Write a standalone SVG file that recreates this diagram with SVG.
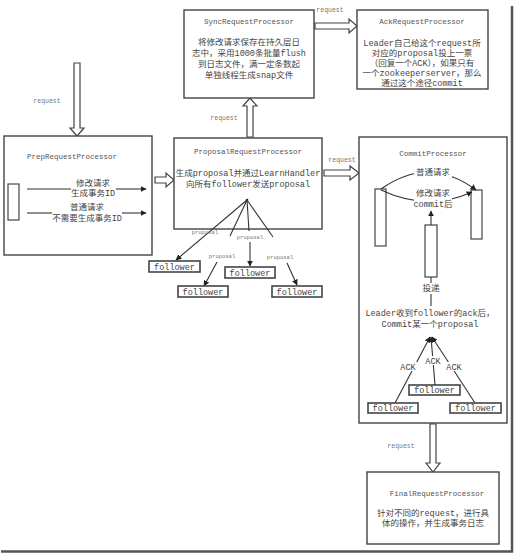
<svg xmlns="http://www.w3.org/2000/svg" width="515" height="554" viewBox="0 0 515 554">
<style>
text{font-family:"Liberation Mono","Noto Sans CJK SC",monospace;fill:#444;text-anchor:middle}
.t{font-size:7.5px;fill:#555}
.b{font-size:8.5px}
.s{font-size:6.5px;fill:#777}
.p{font-size:5.5px;fill:#777}
.box{fill:#fff;stroke:#444;stroke-width:1.4}
.fb{fill:#fff;stroke:#444;stroke-width:1.6}
.sm{fill:#fff;stroke:#444;stroke-width:1.2}
.ln{fill:none;stroke:#333;stroke-width:1.1}
.ha{fill:#fff;stroke:#444;stroke-width:1.2}
.wb{fill:#fff}
</style>
<defs>
<marker id="ah" viewBox="0 0 10 10" refX="9" refY="5" markerWidth="6" markerHeight="6" orient="auto" markerUnits="userSpaceOnUse">
<path d="M0,0 L10,5 L0,10 z" fill="#222"/>
</marker>
</defs>
<rect width="515" height="554" fill="#fff"/>
<g id="frame">
<path d="M512,6 V551.5 H1" fill="none" stroke="#555" stroke-width="2.5"/>
</g>

<g id="connectors">
<polygon class="ha" points="74,63 80,63 80,128 84,128 77,136 70,128 74,128"/>
<polygon class="ha" points="247,137 253,137 253,106 257,106 250,98 243,106 247,106"/>
<polygon class="ha" points="315,23 349,23 349,19 357,26 349,33 349,29 315,29"/>
<polygon class="ha" points="155,177 166,177 166,173 174,180 166,187 166,183 155,183"/>
<polygon class="ha" points="324,170 350,170 350,166 359,173 350,180 350,176 324,176"/>
<polygon class="ha" points="430,424 436,424 436,463 440,463 433,472 426,463 430,463"/>
<text class="s" x="47" y="103">request</text>
<text class="s" x="224" y="120">request</text>
<text class="s" x="330" y="12">request</text>
<text class="s" x="342" y="162">request</text>
<text class="s" x="401" y="448">request</text>
</g>

<g id="SyncRequestProcessor">
<rect class="box" x="184" y="10" width="130" height="88"/>
<text class="t" x="249" y="24">SyncRequestProcessor</text>
<text class="b" x="249" y="45">将修改请求保存在持久层日</text>
<text class="b" x="249" y="56">志中，采用1000条批量flush</text>
<text class="b" x="249" y="67">到日志文件，满一定条数起</text>
<text class="b" x="249" y="78">单独线程生成snap文件</text>
</g>

<g id="AckRequestProcessor">
<rect class="box" x="357" y="10" width="131" height="79"/>
<text class="t" x="422" y="24">AckRequestProcessor</text>
<text class="b" x="422" y="46">Leader自己给这个request所</text>
<text class="b" x="422" y="56">对应的proposal投上一票</text>
<text class="b" x="422" y="66">（回复一个ACK），如果只有</text>
<text class="b" x="422" y="76">一个zookeeperserver，那么</text>
<text class="b" x="422" y="86">通过这个途径commit</text>
</g>

<g id="PrepRequestProcessor">
<rect class="box" x="4" y="136" width="148" height="119"/>
<text class="t" x="72" y="159">PrepRequestProcessor</text>
<rect class="sm" x="8" y="184" width="11" height="36"/>
<line class="ln" x1="27" y1="189" x2="71" y2="189"/>
<line class="ln" x1="116" y1="189" x2="146" y2="189" marker-end="url(#ah)"/>
<text class="b" x="93" y="186">修改请求</text>
<text class="b" x="93" y="196">生成事务ID</text>
<line class="ln" x1="27" y1="213" x2="52" y2="213"/>
<line class="ln" x1="122" y1="213" x2="146" y2="213" marker-end="url(#ah)"/>
<text class="b" x="87" y="210">普通请求</text>
<text class="b" x="87" y="221">不需要生成事务ID</text>
</g>

<g id="ProposalRequestProcessor">
<rect class="box" x="174" y="138" width="148" height="91"/>
<text class="t" x="248" y="154">ProposalRequestProcessor</text>
<text class="b" x="248" y="176">生成proposal并通过LearnHandler</text>
<text class="b" x="248" y="187">向所有follower发送proposal</text>
<circle cx="247" cy="200" r="1.3" fill="#222"/>
<line class="ln" x1="247" y1="200" x2="176" y2="260" marker-end="url(#ah)"/>
<line class="ln" x1="247" y1="200" x2="230" y2="236"/>
<line class="ln" x1="217" y1="262" x2="204" y2="286" marker-end="url(#ah)"/>
<line class="ln" x1="247" y1="200" x2="249" y2="231"/>
<line class="ln" x1="250" y1="242" x2="250" y2="266" marker-end="url(#ah)"/>
<line class="ln" x1="247" y1="200" x2="273" y2="237"/>
<line class="ln" x1="287" y1="263" x2="297" y2="285" marker-end="url(#ah)"/>
<text class="p" x="205" y="234">proposal</text>
<text class="p" x="222" y="258">proposal</text>
<text class="p" x="250" y="239">proposal</text>
<text class="p" x="280" y="259">proposal</text>
</g>
<g id="follower1"><rect class="fb" x="149" y="261" width="51" height="11"/><text class="b" x="174.5" y="269.5">follower</text></g>
<g id="follower2"><rect class="fb" x="178" y="286" width="50" height="11"/><text class="b" x="203" y="294.5">follower</text></g>
<g id="follower3"><rect class="fb" x="225" y="267" width="50" height="11"/><text class="b" x="250" y="275.5">follower</text></g>
<g id="follower4"><rect class="fb" x="272" y="286" width="50" height="11"/><text class="b" x="297" y="294.5">follower</text></g>

<g id="CommitProcessor">
<rect class="box" x="359" y="137" width="148" height="286"/>
<text class="t" x="433" y="156">CommitProcessor</text>
<rect class="sm" x="375" y="189" width="11" height="57"/>
<rect class="sm" x="471" y="190" width="11" height="49"/>
<rect class="sm" x="425" y="225" width="12" height="52"/>
<path class="ln" d="M381,189 Q429,155 476,190" marker-end="url(#ah)"/>
<path class="ln" d="M381,190 Q428,212 472,192" marker-end="url(#ah)"/>
<rect class="wb" x="414" y="167" width="38" height="10"/>
<text class="b" x="433" y="175">普通请求</text>
<rect class="wb" x="414" y="188" width="38" height="20"/>
<text class="b" x="433" y="196">修改请求</text>
<text class="b" x="433" y="207">commit后</text>
<line class="ln" x1="431" y1="225" x2="431" y2="211" marker-end="url(#ah)"/>
<line class="ln" x1="431" y1="277" x2="431" y2="306"/>
<rect class="wb" x="421" y="283" width="20" height="11"/>
<text class="b" x="431" y="291">投递</text>
<text class="b" x="430" y="316">Leader收到follower的ack后，</text>
<text class="b" x="430" y="327">Commit某一个proposal</text>
<line class="ln" x1="395" y1="403" x2="430" y2="337" marker-end="url(#ah)"/>
<line class="ln" x1="435" y1="385" x2="431" y2="337" marker-end="url(#ah)"/>
<line class="ln" x1="475" y1="403" x2="432" y2="337" marker-end="url(#ah)"/>
<rect class="wb" x="399" y="362" width="18" height="9"/>
<text class="b" x="408" y="370">ACK</text>
<rect class="wb" x="424" y="356" width="18" height="9"/>
<text class="b" x="433" y="364">ACK</text>
<rect class="wb" x="445" y="362" width="18" height="9"/>
<text class="b" x="454" y="370">ACK</text>
</g>
<g id="follower5"><rect class="fb" x="368" y="403" width="50" height="10"/><text class="b" x="393" y="411">follower</text></g>
<g id="follower6"><rect class="fb" x="409" y="385" width="51" height="10"/><text class="b" x="434.5" y="393">follower</text></g>
<g id="follower7"><rect class="fb" x="450" y="403" width="51" height="10"/><text class="b" x="475.5" y="411">follower</text></g>

<g id="FinalRequestProcessor">
<rect class="box" x="367" y="472" width="132" height="72"/>
<text class="t" x="437" y="496">FinalRequestProcessor</text>
<text class="b" x="433" y="516">针对不同的request，进行具</text>
<text class="b" x="433" y="526">体的操作，并生成事务日志</text>
</g>
</svg>
